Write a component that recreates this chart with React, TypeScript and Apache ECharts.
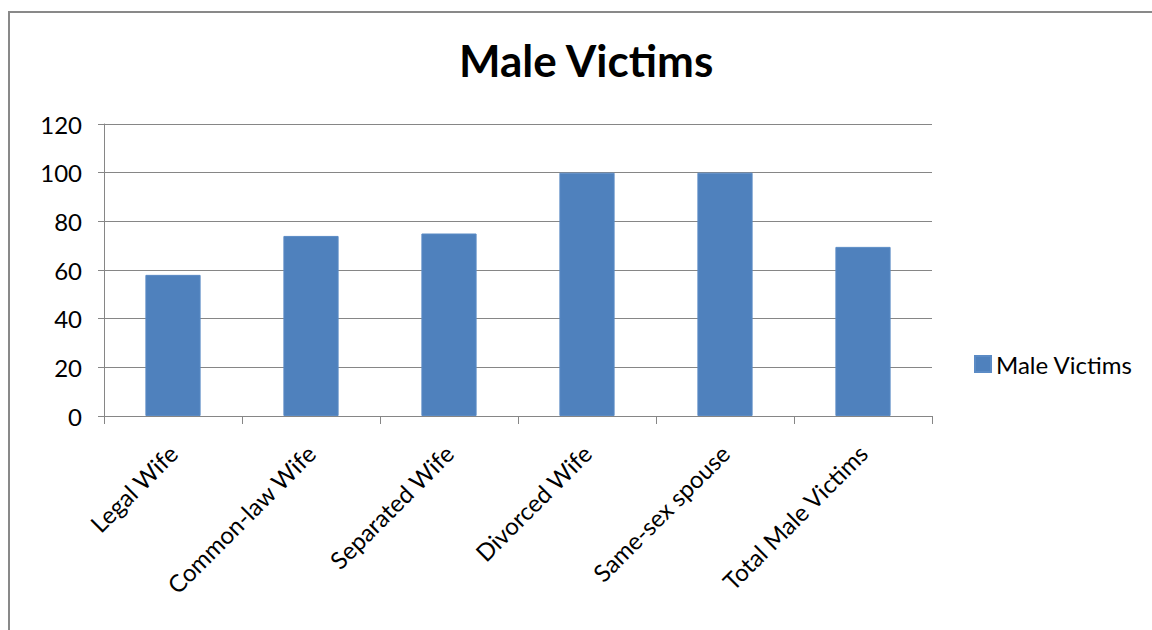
import React, { useEffect, useRef } from "react";
import * as echarts from "echarts";

const categories = ["Legal Wife", "Common-law Wife", "Separated Wife", "Divorced Wife", "Same-sex spouse", "Total Male Victims"];
const values = [58, 74, 75, 100, 100, 69.5];
const seriesName = "Male Victims";
const titleText = "Male Victims";

const FONT = "Lato, 'Open Sans', sans-serif";

export default function App() {
  const ref = useRef<HTMLDivElement>(null);
  useEffect(() => {
    if (!ref.current) return;
    const chart = echarts.init(ref.current, null, { renderer: "svg" });
    chart.setOption({
      animation: false,
      backgroundColor: "#ffffff",
      textStyle: { fontFamily: FONT },
      title: {
        text: titleText,
        left: 459,
        top: 38,
        textStyle: { fontSize: 44, fontWeight: "bold", color: "#000", fontFamily: FONT },
        padding: 0,
        itemGap: 0,
      },
      graphic: [
        {
          type: "rect",
          shape: { x: 9, y: 12, width: 1300, height: 800 },
          style: { fill: "none", stroke: "#898989", lineWidth: 2 },
          z: 100,
          silent: true,
        },
      ],
      legend: {
        left: 974,
        top: 352,
        orient: "vertical",
        itemWidth: 16,
        itemHeight: 16,
        itemGap: 6,
        icon: "rect",
        padding: 0,
        textStyle: { fontSize: 24, color: "#000", fontFamily: FONT, padding: [0, 0, 0, 0] },
        data: [seriesName],
      },
      grid: { left: 104, right: 220, top: 124, bottom: 214, containLabel: false },
      xAxis: {
        type: "category",
        data: categories,
        axisLine: { lineStyle: { color: "#868686", width: 1 } },
        axisTick: { show: true, length: 8, lineStyle: { color: "#868686" } },
        axisLabel: {
          rotate: 45,
          interval: 0,
          fontSize: 24,
          color: "#000",
          fontFamily: FONT,
          margin: 33,
        },
      },
      yAxis: {
        type: "value",
        min: 0,
        max: 120,
        interval: 20,
        axisLine: { show: true, lineStyle: { color: "#868686", width: 1 } },
        axisTick: { show: true, length: 6, lineStyle: { color: "#868686" } },
        splitLine: { lineStyle: { color: "#868686", width: 1 } },
        axisLabel: { fontSize: 24, color: "#000", fontFamily: FONT, margin: 22 },
      },
      series: [
        {
          name: seriesName,
          type: "bar",
          data: values,
          barWidth: "40%",
          itemStyle: { color: "#4F81BD", borderColor: "#5B8BC5", borderWidth: 1 },
        },
      ],
    });
    return () => chart.dispose();
  }, []);
  return (
    <div
      ref={ref}
      style={{ position: "fixed", left: 0, top: 0, width: 1152, height: 630, background: "#fff" }}
    />
  );
}
